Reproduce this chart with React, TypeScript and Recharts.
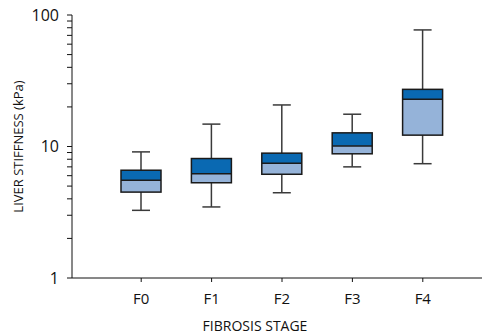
import { Bar, ComposedChart, XAxis, YAxis } from "recharts";

const stages = ["F0", "F1", "F2", "F3", "F4"];
const whiskerLow = [3.27, 3.47, 4.45, 7.0, 7.4];
const q1 = [4.5, 5.3, 6.15, 8.8, 12.2];
const median = [5.55, 6.2, 7.45, 10.1, 22.9];
const q3 = [6.6, 8.1, 8.9, 12.7, 27.2];
const whiskerHigh = [9.1, 14.8, 20.7, 17.6, 77];

const yTicks = [1, 2, 3, 4, 5, 6, 7, 8, 9, 10, 20, 30, 40, 50, 60, 70, 80, 90, 100];

const DARK = "#0a69b2";
const LIGHT = "#95b3d9";
const FONT = "'Open Sans', sans-serif";

const data = stages.map((s, i) => ({
  stage: s,
  range: [whiskerLow[i], whiskerHigh[i]],
  lo: whiskerLow[i],
  q1: q1[i],
  med: median[i],
  q3: q3[i],
  hi: whiskerHigh[i],
}));

function BoxShape(props: any) {
  const { x, y, width, height, payload } = props;
  if (!payload) return null;
  const top = y;
  const bottom = y + height;
  const lLo = Math.log10(payload.lo);
  const lHi = Math.log10(payload.hi);
  const py = (v: number) => bottom - ((Math.log10(v) - lLo) / (lHi - lLo)) * (bottom - top);
  const cx = x + width / 2;
  const cap = 9;
  const yQ1 = py(payload.q1);
  const yMed = py(payload.med);
  const yQ3 = py(payload.q3);
  return (
    <g>
      <line x1={cx} x2={cx} y1={top} y2={yQ3} stroke="#3a3a3a" strokeWidth={1.5} />
      <line x1={cx} x2={cx} y1={yQ1} y2={bottom} stroke="#3a3a3a" strokeWidth={1.5} />
      <line x1={cx - cap} x2={cx + cap} y1={top} y2={top} stroke="#3a3a3a" strokeWidth={1.5} />
      <line x1={cx - cap} x2={cx + cap} y1={bottom} y2={bottom} stroke="#3a3a3a" strokeWidth={1.5} />
      <rect x={x} y={yQ3} width={width} height={yMed - yQ3} fill={DARK} />
      <rect x={x} y={yMed} width={width} height={yQ1 - yMed} fill={LIGHT} />
      <line x1={x} x2={x + width} y1={yMed} y2={yMed} stroke="#1a1a1a" strokeWidth={1.5} />
      <rect x={x} y={yQ3} width={width} height={yQ1 - yQ3} fill="none" stroke="#1a1a1a" strokeWidth={1.5} />
    </g>
  );
}

const yTickFmt = (v: number) => (v === 1 || v === 10 || v === 100 ? String(v) : "");

export default function App() {
  return (
    <div style={{ position: "absolute", left: 0, top: 0, background: "#fff" }}>
      <ComposedChart
        width={482}
        height={335}
        data={data}
        margin={{ top: 15, right: 0, bottom: 0, left: 0 }}
      >
        <XAxis
          dataKey="stage"
          height={57}
          padding={{ left: 34, right: 24 }}
          tickSize={4}
          tickMargin={11}
          stroke="#111"
          tick={{ fill: "#111", fontSize: 15, fontFamily: FONT }}
          label={{
            value: "FIBROSIS STAGE",
            position: "center",
            dx: -22,
            dy: 20,
            fill: "#111",
            fontSize: 14,
            fontFamily: FONT,
          }}
        />
        <YAxis
          scale="log"
          domain={[1, 100]}
          ticks={yTicks}
          tickFormatter={yTickFmt}
          interval={0}
          allowDataOverflow
          width={72}
          tickSize={5}
          tickMargin={8}
          stroke="#111"
          tick={{ fill: "#111", fontSize: 16, fontFamily: FONT }}
          label={{
            value: "LIVER STIFFNESS (kPa)",
            angle: -90,
            position: "center",
            dx: -18,
            fill: "#111",
            fontSize: 13,
            fontFamily: FONT,
          }}
        />
        <Bar dataKey="range" barSize={40} shape={<BoxShape />} isAnimationActive={false} />
      </ComposedChart>
    </div>
  );
}
